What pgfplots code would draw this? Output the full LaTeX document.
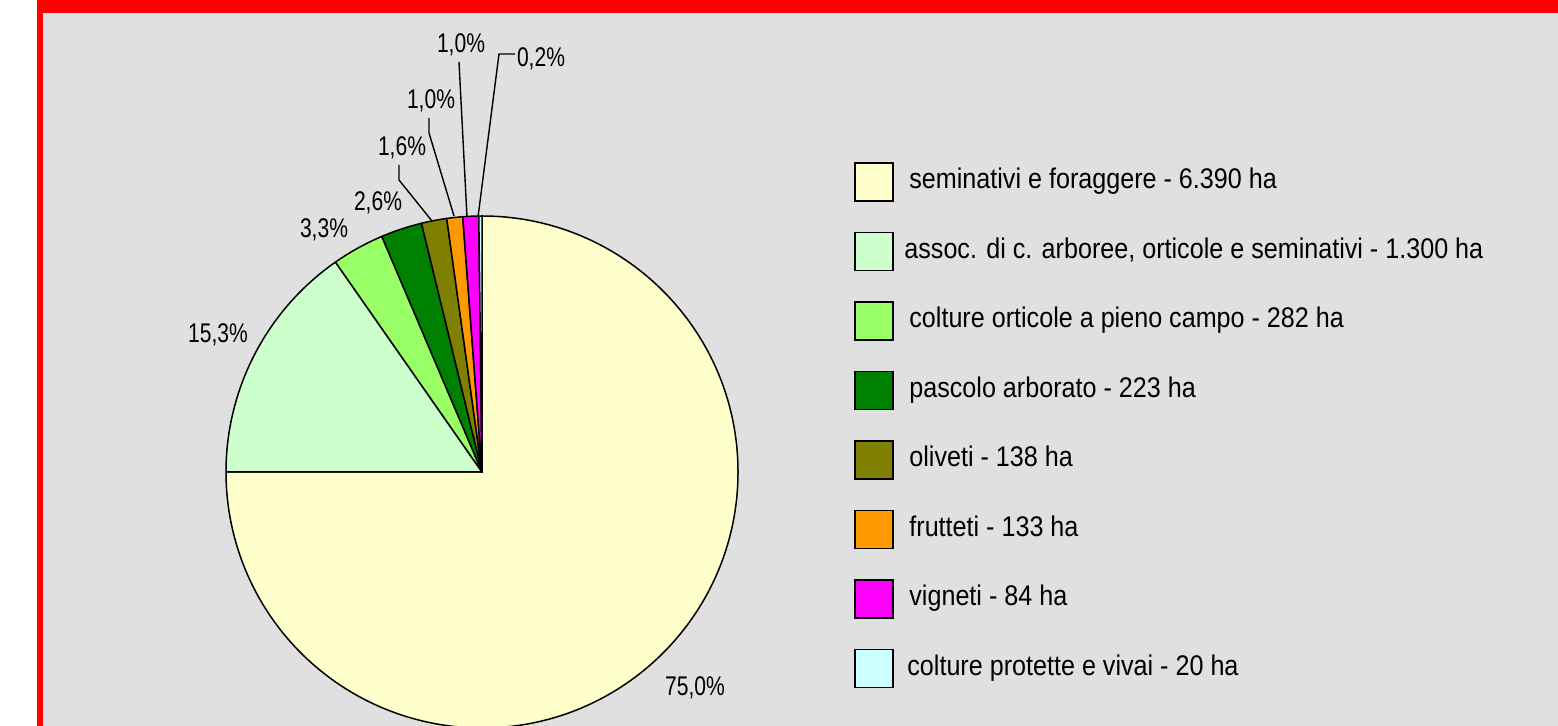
\documentclass[border=0pt]{standalone}
\usepackage{pgfplots}
\pgfplotsset{compat=1.18}
\usepackage{fontspec}
\setmainfont{Liberation Sans}
\newfontfamily\pctfont[FakeStretch=0.78]{Liberation Sans}
\newfontfamily\legfont[FakeStretch=0.885]{Liberation Sans}
\definecolor{bg}{HTML}{E0E0E0}
\definecolor{c1}{HTML}{FFFFCC}
\definecolor{c2}{HTML}{CCFFCC}
\definecolor{c3}{HTML}{99FF66}
\definecolor{c4}{HTML}{008000}
\definecolor{c5}{HTML}{808000}
\definecolor{c6}{HTML}{FF9900}
\definecolor{c7}{HTML}{FF00FF}
\definecolor{c8}{HTML}{CCFFFF}
\begin{document}
\begin{tikzpicture}
\begin{axis}[name=ax, at={(0,0)}, anchor=south west,
  width=779pt, height=363pt, scale only axis,
  xmin=0, xmax=1558, ymin=0, ymax=726, y dir=reverse,
  hide axis]
\pgfplotsextra{
  % frame and background
  \fill[white] (axis cs:0,0) rectangle (axis cs:1558,726);
  \fill[red] (axis cs:37,0) rectangle (axis cs:1558,726);
  \fill[bg] (axis cs:43,13.5) rectangle (axis cs:1558,726);
  % pie: percentages, clockwise from the top
  \gdef\angA{90}
  \foreach \p/\c in {75.0/c1, 15.3/c2, 3.3/c3, 2.6/c4, 1.6/c5, 1.0/c6, 1.0/c7, 0.2/c8} {
    \pgfmathsetmacro\angB{\angA - 3.6*\p}
    \filldraw[fill=\c, draw=black, line width=0.75pt, line join=round]
      (axis cs:482,472) -- ++(\angA:128pt) arc[start angle=\angA, end angle=\angB, radius=128pt] -- cycle;
    \xdef\angA{\angB}
  }
  % leader lines
  \draw[line width=0.7pt] (axis cs:399,165) -- (axis cs:399,180) -- (axis cs:432,221);
  \draw[line width=0.7pt] (axis cs:429,118) -- (axis cs:429,133) -- (axis cs:454,216);
  \draw[line width=0.7pt] (axis cs:459,62) -- (axis cs:467,217);
  \draw[line width=0.7pt] (axis cs:515,54) -- (axis cs:499,54) -- (axis cs:478,217);
  % percentage labels
  \begin{scope}[every node/.style={inner sep=0pt, anchor=base, font=\pctfont\fontsize{13.5}{16}\selectfont}]
    \node at (axis cs:695,696) {75,0\%};
    \node at (axis cs:218,343) {15,3\%};
    \node at (axis cs:324,238) {3,3\%};
    \node at (axis cs:378,211) {2,6\%};
    \node at (axis cs:402,156) {1,6\%};
    \node at (axis cs:431,109) {1,0\%};
    \node at (axis cs:461,53) {1,0\%};
    \node at (axis cs:541,67) {0,2\%};
  \end{scope}
  % legend
  \foreach \y/\c/\t/\x in {
     182/c1/{seminativi e foraggere - 6.390 ha}/909,
     251.5/c2/{assoc. di c. arboree, orticole e seminativi - 1.300 ha}/904,
     321/c3/{colture orticole a pieno campo - 282 ha}/909,
     390.5/c4/{pascolo arborato - 223 ha}/909,
     460/c5/{oliveti - 138 ha}/909,
     529.5/c6/{frutteti - 133 ha}/909,
     599/c7/{vigneti - 84 ha}/909,
     668.5/c8/{colture protette e vivai - 20 ha}/907} {
    \filldraw[fill=\c, draw=black, line width=0.7pt] (axis cs:855,\y-19) rectangle (axis cs:893,\y+19);
    \node[inner sep=0pt, anchor=base west, font=\legfont\fontsize{14.2}{17}\selectfont] at (axis cs:\x,\y+7) {\t};
  }
}
\end{axis}
\pgfresetboundingbox
\path (ax.south west) rectangle (ax.north east);
\end{tikzpicture}
\end{document}
